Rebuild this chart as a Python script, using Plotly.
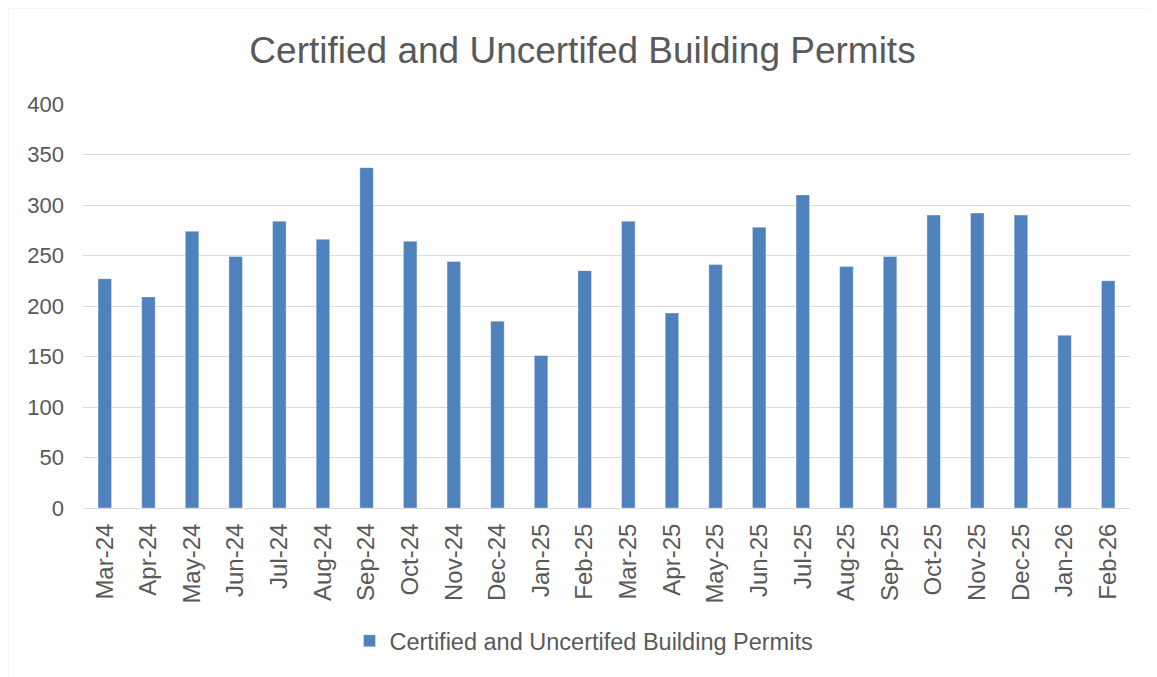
import plotly.graph_objects as go

months = ["Mar-24", "Apr-24", "May-24", "Jun-24", "Jul-24", "Aug-24", "Sep-24", "Oct-24",
          "Nov-24", "Dec-24", "Jan-25", "Feb-25", "Mar-25", "Apr-25", "May-25", "Jun-25",
          "Jul-25", "Aug-25", "Sep-25", "Oct-25", "Nov-25", "Dec-25", "Jan-26", "Feb-26"]
permits = [227, 209, 274, 249, 284, 266, 337, 264,
           244, 185, 151, 235, 284, 193, 241, 278,
           310, 239, 249, 290, 292, 290, 171, 225]
y_ticks = [0, 50, 100, 150, 200, 250, 300, 350, 400]

series_name = "Certified and Uncertifed Building Permits"
text_color = "#595959"
font_family = "Liberation Sans, Arial, sans-serif"

W, H = 1157, 677
OFF = 8  # page body margin
L, R, T, B = 83 - OFF, 1130 - OFF, 104 - OFF, 508 - OFF

def px_x(p):
    return (p - OFF - L) / (R - L)

def px_y(p):
    return (B - (p - OFF)) / (B - T)

fig = go.Figure()
fig.add_trace(go.Bar(
    x=months, y=permits, name=series_name,
    marker=dict(color="#4F81BD", line=dict(color="rgba(255,255,255,0.6)", width=0.6)),
    showlegend=True,
))

fig.update_layout(
    width=W, height=H,
    margin=dict(l=L, r=W - R, t=T, b=H - B, autoexpand=False),
    paper_bgcolor="white", plot_bgcolor="white",
    font=dict(family=font_family, color=text_color),
    title=dict(text="Certified and Uncertifed Building Permits",
               x=(582.5 - OFF) / W, xanchor="center", y=1 - (50 - OFF) / H, yanchor="middle",
               font=dict(size=37, color=text_color, family=font_family)),
    bargap=0.69,
    legend=dict(orientation="h", x=px_x(584), xanchor="center", y=px_y(641), yanchor="middle",
                font=dict(size=23.5, color=text_color), itemwidth=30,
                bgcolor="rgba(0,0,0,0)"),
    xaxis=dict(type="category", tickangle=-90, tickfont=dict(size=24, color=text_color),
               showgrid=False, showline=True, linecolor="#D9D9D9", linewidth=1,
               ticks="", ticklabelstandoff=5),
    yaxis=dict(range=[0, 400], tickvals=y_ticks, tickfont=dict(size=22, color=text_color),
               showgrid=True, gridcolor="#D9D9D9", gridwidth=1, zeroline=False,
               showline=False, ticks="", ticklabelstandoff=18),
    shapes=[dict(type="rect", xref="paper", yref="paper",
                 x0=px_x(7.5), x1=px_x(1200), y0=px_y(700), y1=px_y(7.5),
                 line=dict(color="#D9D9D9", width=1.5), fillcolor="rgba(0,0,0,0)",
                 layer="below")],
)

fig.write_html("out.html")
